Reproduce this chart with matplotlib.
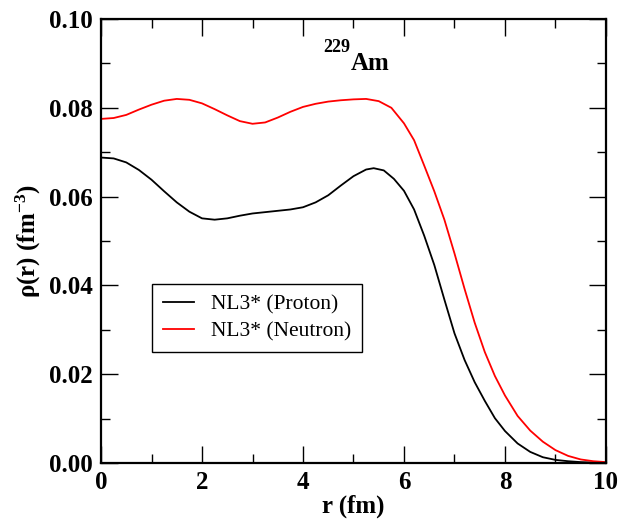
import matplotlib
matplotlib.use("Agg")
import matplotlib.pyplot as plt
from matplotlib.ticker import MultipleLocator

plt.rcParams["font.family"] = ["Liberation Serif", "DejaVu Serif"]
plt.rcParams["mathtext.fontset"] = "custom"
plt.rcParams["mathtext.rm"] = "Liberation Serif:bold"
plt.rcParams["mathtext.bf"] = "Liberation Serif:bold"
plt.rcParams["mathtext.it"] = "Liberation Serif:italic:bold"

# data
r_proton = [0.0, 0.25, 0.5, 0.75, 1.0, 1.25, 1.5, 1.75, 2.0, 2.25, 2.5, 2.75,
            3.0, 3.25, 3.5, 3.75, 4.0, 4.25, 4.5, 4.75, 5.0, 5.25, 5.4, 5.6,
            5.8, 6.0, 6.2, 6.4, 6.6, 6.8, 7.0, 7.2, 7.4, 7.6, 7.8, 8.0, 8.25,
            8.5, 8.75, 9.0, 9.25, 9.5, 9.75, 10.0]
rho_proton = [0.0688, 0.0686, 0.0677, 0.0660, 0.0638, 0.0612, 0.0587, 0.0566,
              0.0551, 0.0548, 0.0551, 0.0557, 0.0562, 0.0565, 0.0568, 0.0571,
              0.0576, 0.0587, 0.0603, 0.0625, 0.0646, 0.0661, 0.0664, 0.0659,
              0.0640, 0.0613, 0.0571, 0.0512, 0.0446, 0.0368, 0.0292, 0.0232,
              0.0182, 0.0140, 0.0101, 0.0072, 0.0044, 0.0025, 0.0013, 0.0007,
              0.0004, 0.0002, 0.0001, 0.00005]

r_neutron = [0.0, 0.25, 0.5, 0.75, 1.0, 1.25, 1.5, 1.75, 2.0, 2.25, 2.5, 2.75,
             3.0, 3.25, 3.5, 3.75, 4.0, 4.25, 4.5, 4.75, 5.0, 5.25, 5.5, 5.75,
             6.0, 6.2, 6.4, 6.6, 6.8, 7.0, 7.2, 7.4, 7.6, 7.8, 8.0, 8.25, 8.5,
             8.75, 9.0, 9.25, 9.5, 9.75, 10.0]
rho_neutron = [0.0775, 0.0777, 0.0784, 0.0796, 0.0807, 0.0816, 0.0820, 0.0818,
               0.0810, 0.0797, 0.0783, 0.0770, 0.0764, 0.0767, 0.0778, 0.0791,
               0.0802, 0.0809, 0.0814, 0.0817, 0.0819, 0.0820, 0.0815, 0.0800,
               0.0765, 0.0727, 0.0670, 0.0612, 0.0548, 0.0472, 0.0392, 0.0316,
               0.0250, 0.0196, 0.0152, 0.0106, 0.0073, 0.0048, 0.0029, 0.0016,
               0.0008, 0.0004, 0.0002]

fig = plt.figure(figsize=(6.33, 5.25), dpi=100)
ax = fig.add_axes([0.1596, 0.1181, 0.7977, 0.8457])

ax.plot(r_proton, rho_proton, color="black", lw=1.3, label="NL3* (Proton)")
ax.plot(r_neutron, rho_neutron, color="red", lw=1.3, label="NL3* (Neutron)")

ax.set_xlim(0, 10)
ax.set_ylim(0, 0.10)
ax.xaxis.set_major_locator(MultipleLocator(2))
ax.xaxis.set_minor_locator(MultipleLocator(1))
ax.yaxis.set_major_locator(MultipleLocator(0.02))
ax.yaxis.set_minor_locator(MultipleLocator(0.01))
ax.yaxis.set_major_formatter(plt.FuncFormatter(lambda v, p: f"{v:.2f}"))
ax.tick_params(which="both", direction="in", top=True, right=True, width=1)
ax.tick_params(which="major", length=12, labelsize=18, pad=6)
ax.tick_params(which="minor", length=6.5)
for lab in ax.get_xticklabels() + ax.get_yticklabels():
    lab.set_fontweight("bold")
for s in ax.spines.values():
    s.set_linewidth(1.6)

ax.set_xlabel("r (fm)", fontsize=18, fontweight="bold", labelpad=0)
ax.set_ylabel(r"ρ(r) (fm$^{-3}$)", fontsize=18, fontweight="bold", labelpad=4)

ax.text(4.93, 0.0926, "229", fontsize=13, fontweight="bold", ha="right", va="baseline")
ax.text(4.95, 0.0885, "Am", fontsize=18, fontweight="bold", ha="left", va="baseline")

leg = ax.legend(loc="lower left", bbox_to_anchor=(0.101, 0.25), borderaxespad=0,
                fontsize=15.5, fancybox=False, edgecolor="black",
                handlelength=1.45, handletextpad=0.8, borderpad=0.5,
                labelspacing=0.3)
leg.get_frame().set_linewidth(1.0)
leg.get_frame().set_alpha(1)

fig.savefig("out.png", dpi=100)
